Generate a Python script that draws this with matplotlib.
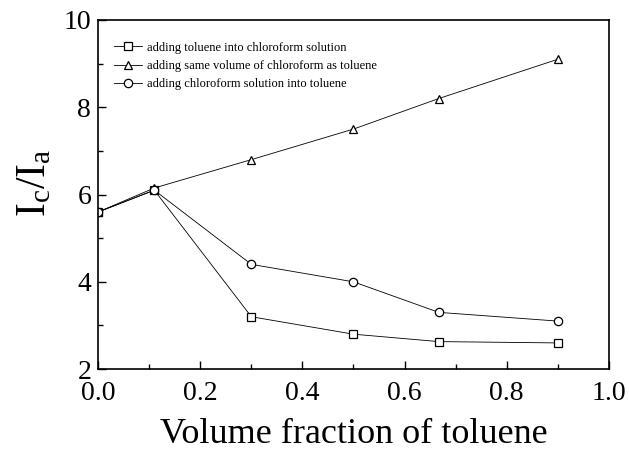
import matplotlib
matplotlib.use("Agg")
import matplotlib.pyplot as plt
from matplotlib.ticker import MultipleLocator

# data
fraction = [0.0, 0.11, 0.30, 0.50, 0.667, 0.90]
toluene_into_chloroform = [5.6, 6.1, 3.2, 2.8, 2.63, 2.6]
same_volume_chloroform = [5.6, 6.15, 6.8, 7.5, 8.2, 9.1]
chloroform_into_toluene = [5.6, 6.1, 4.4, 4.0, 3.3, 3.1]

plt.rcParams['font.family'] = ['Liberation Serif', 'DejaVu Serif']
plt.rcParams['mathtext.fontset'] = 'custom'
plt.rcParams['mathtext.rm'] = 'Liberation Serif'
plt.rcParams['mathtext.it'] = 'Liberation Serif'

fig = plt.figure(figsize=(6.29, 4.54), dpi=100)
ax = fig.add_axes([0.156, 0.187, 0.812, 0.769])

style = dict(color='black', lw=0.6, markerfacecolor='white',
             markeredgecolor='black', markeredgewidth=0.9, markersize=6)
ax.plot(fraction, toluene_into_chloroform, marker='s',
        label='adding toluene into chloroform solution', **style)
ax.plot(fraction, same_volume_chloroform, marker='^',
        label='adding same volume of chloroform as toluene', **style)
ax.plot(fraction, chloroform_into_toluene, marker='o',
        label='adding chloroform solution into toluene', **style)

ax.set_xlim(0, 1.0)
ax.set_ylim(2, 10)
ax.xaxis.set_major_locator(MultipleLocator(0.2))
ax.xaxis.set_minor_locator(MultipleLocator(0.1))
ax.yaxis.set_major_locator(MultipleLocator(2))
ax.yaxis.set_minor_locator(MultipleLocator(1))
ax.tick_params(which='both', direction='in', labelsize=20, width=1)
ax.tick_params(which='major', length=6)
ax.tick_params(which='minor', length=3.5)
ax.tick_params(axis='x', which='major', pad=8.5)
ax.tick_params(axis='y', which='major', pad=5)
ax.xaxis.set_major_formatter(plt.FuncFormatter(lambda v, p: f'{v:.1f}'))
for s in ax.spines.values():
    s.set_linewidth(1.2)

ax.set_xlabel('Volume fraction of toluene', fontsize=26, labelpad=9)
ax.set_ylabel(r'$\mathrm{I_c/I_a}$', fontsize=30)
ax.yaxis.set_label_coords(-0.085, 0.535)

ax.legend(loc='upper left', frameon=False, fontsize=9, handlelength=2.2,
          bbox_to_anchor=(0.01, 0.97), handletextpad=0.4, labelspacing=0.5)

fig.savefig('out.png', dpi=100)
